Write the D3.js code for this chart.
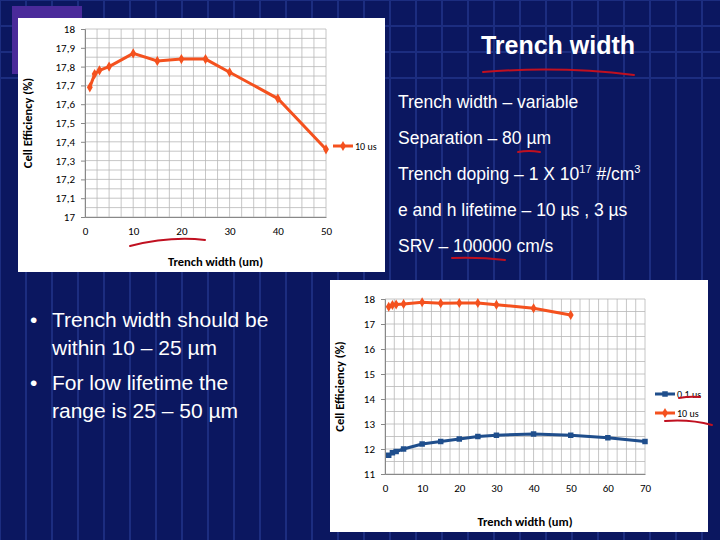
<!DOCTYPE html>
<html><head><meta charset="utf-8">
<script src="https://cdn.jsdelivr.net/npm/d3@7"></script>
<style>body{margin:0;background:#0b1760}svg{display:block}</style>
</head><body>
<svg id="c" width="720" height="540"></svg>
<script>
// data
const widths = [1, 2, 3, 5, 10, 15, 20, 25, 30, 40, 50];
const eff10us = [17.69, 17.76, 17.78, 17.80, 17.87, 17.83, 17.84, 17.84, 17.77, 17.63, 17.36];
const widthsLow = [1, 2, 3, 5, 10, 15, 20, 25, 30, 40, 50, 60, 70];
const eff01us = [11.75, 11.85, 11.9, 12.0, 12.2, 12.3, 12.4, 12.5, 12.55, 12.6, 12.55, 12.45, 12.3];
const topTicksY = [17, 17.1, 17.2, 17.3, 17.4, 17.5, 17.6, 17.7, 17.8, 17.9, 18];
const specs = ["Trench width \u2013 variable", "Separation \u2013 80 \u00b5m", null, "e and h lifetime \u2013 10 \u00b5s , 3 \u00b5s", "SRV \u2013 100000 cm/s"];

const svg = d3.select("#c");
const font = "Calibri, 'Liberation Sans', sans-serif";

// background grid
const bg = svg.append("g");
bg.append("rect").attr("width", 720).attr("height", 540).attr("fill", "#0b1760");
for (let x = 0; x < 720; x += 26) bg.append("line").attr("x1", x).attr("x2", x).attr("y1", 0).attr("y2", 540).attr("stroke", "#1c2d80").attr("stroke-width", 2);
for (let y = 0; y < 80; y += 26) bg.append("line").attr("x1", 0).attr("x2", 720).attr("y1", y).attr("y2", y).attr("stroke", "#1c2d80").attr("stroke-width", 2);
bg.append("rect").attr("x", 12).attr("y", 6).attr("width", 70).attr("height", 68).attr("fill", "#4a2a9a");

function chart(box, plot, xDom, yDom, xTicks, yTicks, xMinor, yMinor, fmt, series, legendY, legOff) {
  svg.append("rect").attr("x", box[0]).attr("y", box[1]).attr("width", box[2]).attr("height", box[3]).attr("fill", "#fff");
  const x = d3.scaleLinear().domain(xDom).range([plot[0], plot[1]]);
  const y = d3.scaleLinear().domain(yDom).range([plot[3], plot[2]]);
  const g = svg.append("g");
  d3.range(xDom[0], xDom[1] + 0.001, xMinor).forEach(v => g.append("line").attr("x1", x(v)).attr("x2", x(v)).attr("y1", plot[2]).attr("y2", plot[3]).attr("stroke", "#b8b8b8").attr("stroke-width", 0.8));
  d3.range(yDom[0], yDom[1] + 0.0001, yMinor).forEach(v => g.append("line").attr("x1", plot[0]).attr("x2", plot[1]).attr("y1", y(v)).attr("y2", y(v)).attr("stroke", "#b8b8b8").attr("stroke-width", 0.8));
  g.append("g").attr("transform", `translate(0,${plot[3]})`)
    .call(d3.axisBottom(x).tickValues(xTicks).tickSize(0).tickPadding(10))
    .call(a => { a.select(".domain").attr("stroke", "#888"); a.selectAll("text").attr("font-family", font).attr("font-size", 11).attr("fill", "#000"); });
  g.append("g").attr("transform", `translate(${plot[0]},0)`)
    .call(d3.axisLeft(y).tickValues(yTicks).tickSize(4).tickPadding(6).tickFormat(fmt))
    .call(a => { a.select(".domain").attr("stroke", "#888"); a.selectAll("line").attr("stroke", "#888"); a.selectAll("text").attr("font-family", font).attr("font-size", 11).attr("fill", "#000"); });
  g.append("text").attr("x", (plot[0] + plot[1]) / 2 + 10).attr("y", box[1] + box[3] - 6).attr("text-anchor", "middle")
    .attr("font-family", font).attr("font-size", 12.5).attr("font-weight", "bold").text("Trench width (um)");
  g.append("text").attr("transform", `translate(${box[0] + 14},${(plot[2] + plot[3]) / 2}) rotate(-90)`).attr("text-anchor", "middle")
    .attr("font-family", font).attr("font-size", 12.5).attr("font-weight", "bold").text("Cell Efficiency (%)");
  series.forEach((s, i) => {
    const line = d3.line().x(d => x(d[0])).y(d => y(d[1]));
    const pts = d3.zip(s.x, s.y);
    g.append("path").attr("d", line(pts)).attr("fill", "none").attr("stroke", s.color).attr("stroke-width", 3);
    g.selectAll(null).data(pts).enter().append("path").attr("transform", d => `translate(${x(d[0])},${y(d[1])})`)
      .attr("d", d3.symbol(s.sym, 30)).attr("fill", s.color);
    const ly = legendY + i * 19, lx = plot[1] + legOff;
    g.append("line").attr("x1", lx).attr("x2", lx + 20).attr("y1", ly).attr("y2", ly).attr("stroke", s.color).attr("stroke-width", 3);
    g.append("path").attr("transform", `translate(${lx + 10},${ly})`).attr("d", d3.symbol(s.sym, 30)).attr("fill", s.color);
    g.append("text").attr("x", lx + 22).attr("y", ly + 4).attr("font-family", font).attr("font-size", 10).text(s.name);
  });
}

const orange = "#f4511e", blue = "#1f4e8c";
chart([18, 18, 367, 254], [85, 326, 29, 217], [0, 50], [17, 18], [0, 10, 20, 30, 40, 50], topTicksY, 2.5, 0.05,
  d => d3.format(".1f")(d).replace(".", ",").replace(",0", ""),
  [{x: widths, y: eff10us, color: orange, sym: d3.symbolDiamond, name: "10 us"}], 146, 7);
chart([330, 280, 378, 252], [385, 645, 299, 474], [0, 70], [11, 18], [0, 10, 20, 30, 40, 50, 60, 70], d3.range(11, 19), 2.5, 0.5,
  d3.format("d"),
  [{x: widthsLow, y: eff01us, color: blue, sym: d3.symbolSquare, name: "0.1 us"},
   {x: widths, y: eff10us, color: orange, sym: d3.symbolDiamond, name: "10 us"}], 394, 10);

// slide text
svg.append("text").attr("x", 558).attr("y", 54).attr("text-anchor", "middle").attr("font-family", "'Liberation Sans', Arial, sans-serif")
  .attr("font-size", 25).attr("font-weight", "bold").attr("fill", "#fff").text("Trench width");
const sg = svg.append("g").attr("font-family", "'Liberation Sans', Arial, sans-serif").attr("font-size", 17.5).attr("fill", "#fff");
specs.forEach((s, i) => {
  const t = sg.append("text").attr("x", 398).attr("y", 108 + i * 36);
  if (s) t.text(s);
  else { t.text("Trench doping \u2013 1 X 10"); t.append("tspan").attr("dy", -7).attr("font-size", 11).text("17"); t.append("tspan").attr("dy", 7).text(" #/cm"); t.append("tspan").attr("dy", -7).attr("font-size", 11).text("3"); }
});
const bl = svg.append("g").attr("font-family", "'Liberation Sans', Arial, sans-serif").attr("font-size", 21).attr("fill", "#fff");
[["\u2022", "Trench width should be", 327], ["", "within 10 \u2013 25 \u00b5m", 355], ["\u2022", "For low lifetime the", 390], ["", "range is 25 \u2013 50 \u00b5m", 418]].forEach(r => {
  bl.append("text").attr("x", 30).attr("y", r[2]).text(r[0]);
  bl.append("text").attr("x", 52).attr("y", r[2]).text(r[1]);
});

// red pen underlines
const pen = svg.append("g").attr("fill", "none").attr("stroke", "#c01020").attr("stroke-width", 2).attr("stroke-linecap", "round");
[["M483,72 Q560,66 634,75"], ["M452,258 Q480,257 505,260"], ["M130,246 Q170,236 205,240"],
 ["M518,152 Q529,150 540,152"], ["M679,398 Q690,396 700,397"], ["M665,421 Q690,419 712,425"]].forEach(p => pen.append("path").attr("d", p[0]));
</script>
</body></html>
